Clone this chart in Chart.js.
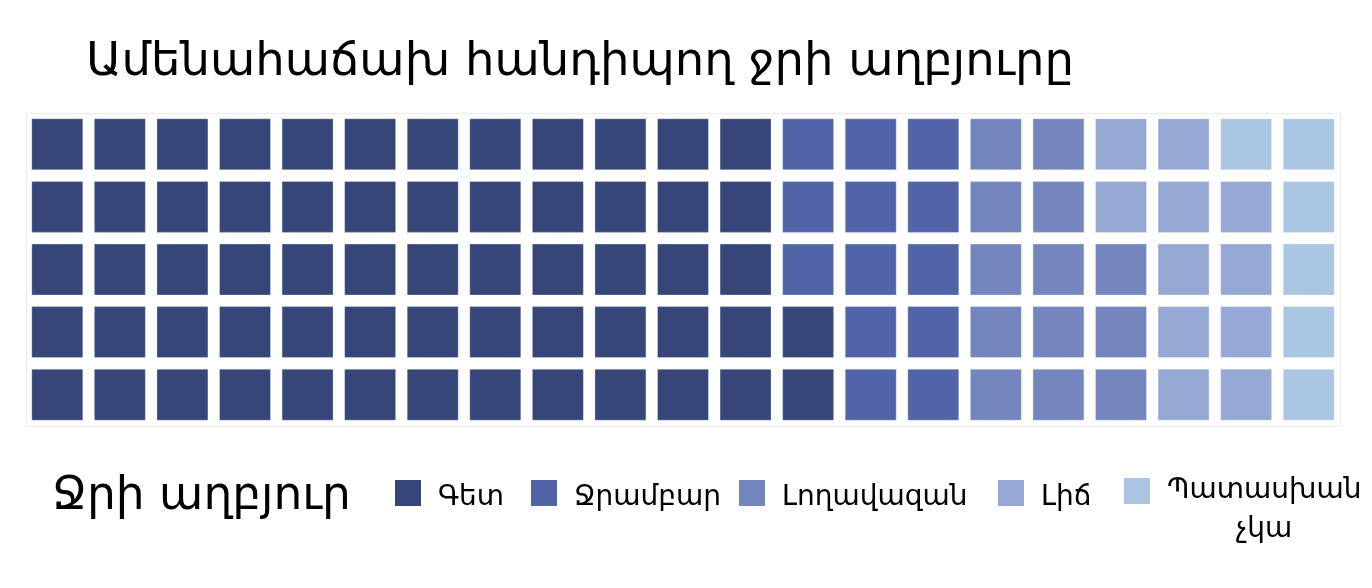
<!DOCTYPE html>
<html>
<head>
<meta charset="utf-8">
<script src="https://cdn.jsdelivr.net/npm/chart.js@4/dist/chart.umd.min.js"></script>
<style>
  html, body { margin: 0; padding: 0; background: #ffffff; }
  #wrap { width: 1372px; height: 588px; position: relative; }
</style>
</head>
<body>
<div id="wrap"><canvas id="c" width="1372" height="588"></canvas></div>
<script>
// ---- data ----
const chartTitle = 'Ամենահաճախ հանդիպող ջրի աղբյուրը';
const legendTitle = 'Ջրի աղբյուր';
const categories = ['Գետ', 'Ջրամբար', 'Լողավազան', 'Լիճ', 'Պատասխան չկա'];
const cellCounts = [62, 13, 13, 11, 6];
const gridRows = 5;
const gridCols = 21;

// ---- style / layout ----
const palette = ['#374679', '#5264a8', '#7486bd', '#96a9d4', '#abc6e3'];
const FONT = "'DejaVu Sans', sans-serif";
const legendSquareX = [395, 531, 739, 998, 1124];

// build cell points (filled column by column, bottom to top)
function cellRadius(ctx) {
  const xs = ctx.chart.scales.x;
  const step = Math.abs(xs.getPixelForValue(2) - xs.getPixelForValue(1));
  return (step * 0.815) / Math.SQRT2;
}
function buildDatasets() {
  let idx = 0;
  return categories.map((name, k) => {
    const pts = [];
    for (let n = 0; n < cellCounts[k]; n++, idx++) {
      pts.push({ x: Math.floor(idx / gridRows) + 1, y: (idx % gridRows) + 1 });
    }
    return {
      label: name,
      data: pts,
      backgroundColor: palette[k],
      borderColor: 'rgba(255,255,255,0.3)',
      borderWidth: 1,
      pointStyle: 'rect',
      pointRadius: cellRadius,
      pointHoverRadius: cellRadius
    };
  });
}

const framePlugin = {
  id: 'frame',
  beforeDatasetsDraw(chart) {
    const { ctx, chartArea: a } = chart;
    ctx.save();
    ctx.strokeStyle = '#ececec';
    ctx.lineWidth = 1;
    ctx.strokeRect(Math.round(a.left) + 0.5, Math.round(a.top) + 0.5,
      Math.round(a.right - a.left), Math.round(a.bottom - a.top));
    ctx.restore();
  }
};

const textPlugin = {
  id: 'texts',
  afterDraw(chart) {
    const ctx = chart.ctx;
    ctx.save();
    ctx.fillStyle = '#000000';
    ctx.textBaseline = 'alphabetic';
    ctx.textAlign = 'left';
    // title
    ctx.font = '46.5px ' + FONT;
    ctx.fillText(chartTitle, 86, 75);
    // legend title
    ctx.font = '45.5px ' + FONT;
    ctx.fillText(legendTitle, 52, 509);
    // legend items
    ctx.font = '28px ' + FONT;
    const sq = 26;
    categories.forEach((name, k) => {
      const x = legendSquareX[k];
      const words = name.split(' ');
      const multi = words.length > 1;
      ctx.fillStyle = palette[k];
      ctx.fillRect(x, multi ? 478 : 480, sq, sq);
      ctx.fillStyle = '#000000';
      const tx = x + 43;
      if (multi) {
        const w0 = ctx.measureText(words[0]).width;
        ctx.textAlign = 'center';
        ctx.fillText(words[0], tx + w0 / 2, 498);
        ctx.fillText(words.slice(1).join(' '), tx + w0 / 2, 537);
        ctx.textAlign = 'left';
      } else {
        ctx.fillText(name, tx, 505);
      }
    });
    ctx.restore();
  }
};

new Chart(document.getElementById('c'), {
  type: 'scatter',
  data: { datasets: buildDatasets() },
  options: {
    responsive: false,
    animation: false,
    events: [],
    layout: { padding: { left: 26, right: 32, top: 113, bottom: 162 } },
    scales: {
      x: { type: 'linear', min: 0.5, max: gridCols + 0.5, display: false },
      y: { type: 'linear', min: 0.5, max: gridRows + 0.5, display: false }
    },
    plugins: {
      legend: { display: false },
      title: { display: false },
      tooltip: { enabled: false }
    }
  },
  plugins: [framePlugin, textPlugin]
});
</script>
</body>
</html>
